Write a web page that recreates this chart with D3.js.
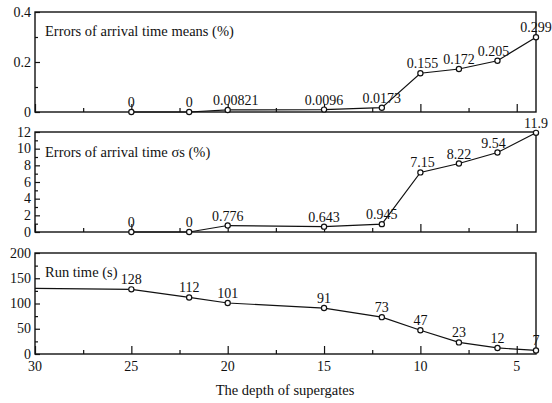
<!DOCTYPE html>
<html>
<head>
<meta charset="utf-8">
<script src="https://cdn.jsdelivr.net/npm/d3@7"></script>
<style>
  body { margin: 0; background: #fff; }
  text { font-family: "Liberation Serif", "DejaVu Serif", serif; fill: #111; }
</style>
</head>
<body>
<svg id="chart" width="552" height="403"></svg>
<script>
// depths of supergates
const depths = [25, 22, 20, 15, 12, 10, 8, 6, 4];
const meanErr = [0, 0, 0.00821, 0.0096, 0.0173, 0.155, 0.172, 0.205, 0.299];
const meanLabels = ["0", "0", "0.00821", "0.0096", "0.0173", "0.155", "0.172", "0.205", "0.299"];
const sigmaErr = [0, 0, 0.776, 0.643, 0.945, 7.15, 8.22, 9.54, 11.9];
const sigmaLabels = ["0", "0", "0.776", "0.643", "0.945", "7.15", "8.22", "9.54", "11.9"];
const runDepths = [30, 25, 22, 20, 15, 12, 10, 8, 6, 4];
const runTime = [130, 128, 112, 101, 91, 73, 47, 23, 12, 7];
const runLabels = ["", "128", "112", "101", "91", "73", "47", "23", "12", "7"];
const xTicks = [30, 25, 20, 15, 10, 5];

const svg = d3.select("#chart");
const left = 35, right = 536;

const x = d3.scaleLinear().domain([30, 4]).range([left, right]);

function drawPanel(cfg) {
  const y = d3.scaleLinear().domain([0, cfg.max]).range([cfg.bottom, cfg.top]);
  const g = svg.append("g");

  // frame
  g.append("rect")
    .attr("x", left).attr("y", cfg.top)
    .attr("width", right - left).attr("height", cfg.bottom - cfg.top)
    .attr("fill", "none").attr("stroke", "#111").attr("stroke-width", 1.4);

  // y ticks (inside)
  const yAxis = d3.axisRight(y).tickValues(cfg.yTicks).tickSize(5).tickFormat("");
  g.append("g").attr("transform", `translate(${left},0)`).call(yAxis)
    .call(a => a.select(".domain").remove());
  const yMinor = d3.axisRight(y).tickValues(cfg.yMinor).tickSize(3).tickFormat("");
  g.append("g").attr("transform", `translate(${left},0)`).call(yMinor)
    .call(a => a.select(".domain").remove());

  g.selectAll(".ylab")
    .data(cfg.yTicks)
    .join("text")
    .attr("class", "ylab")
    .attr("x", left - 4)
    .attr("y", d => y(d) + 4.5)
    .attr("text-anchor", "end")
    .attr("font-size", 14)
    .text(d => cfg.fmt(d));

  // x ticks (inside, pointing up)
  const xAxis = d3.axisTop(x).tickValues(xTicks).tickSize(8).tickFormat("");
  g.append("g").attr("transform", `translate(0,${cfg.bottom})`).call(xAxis)
    .call(a => a.select(".domain").remove());
  const xMinor = d3.axisTop(x).tickValues([27.5, 22.5, 17.5, 12.5, 7.5]).tickSize(4).tickFormat("");
  g.append("g").attr("transform", `translate(0,${cfg.bottom})`).call(xMinor)
    .call(a => a.select(".domain").remove());
  g.selectAll(".tick line").attr("stroke", "#111").attr("stroke-width", 1.2);

  // title inside
  g.append("text")
    .attr("x", left + 10).attr("y", cfg.top + cfg.titleDy)
    .attr("font-size", 14.5)
    .text(cfg.title);

  const pts = cfg.xs.map((d, i) => ({ x: d, v: cfg.vals[i], lab: cfg.labels[i] }));
  const line = d3.line().x(d => x(d.x)).y(d => y(d.v));
  g.append("path").datum(pts)
    .attr("d", line)
    .attr("fill", "none").attr("stroke", "#111").attr("stroke-width", 1.2);

  g.selectAll("circle")
    .data(pts.filter(d => d.lab !== ""))
    .join("circle")
    .attr("cx", d => x(d.x)).attr("cy", d => y(d.v)).attr("r", 2.6)
    .attr("fill", "#fff").attr("stroke", "#111").attr("stroke-width", 1.2);

  g.selectAll(".dlab")
    .data(pts.filter(d => d.lab !== ""))
    .join("text")
    .attr("class", "dlab")
    .attr("x", d => x(d.x) + (cfg.dx ? cfg.dx(d) : 0))
    .attr("y", d => y(d.v) - 5)
    .attr("text-anchor", "middle")
    .attr("font-size", 14)
    .text(d => d.lab);
}

drawPanel({
  top: 12, bottom: 112, max: 0.4, titleDy: 24,
  yTicks: [0, 0.2, 0.4], yMinor: [0.1, 0.3],
  fmt: d => d === 0 ? "0" : d3.format(".1f")(d),
  title: "Errors of arrival time means (%)",
  xs: depths, vals: meanErr, labels: meanLabels,
  dx: d => d.x === 20 ? 8 : (d.x === 6 ? -4 : (d.x === 10 ? 2 : 0))
});

drawPanel({
  top: 132, bottom: 232, max: 12, titleDy: 25,
  yTicks: [0, 2, 4, 6, 8, 10, 12], yMinor: [1, 3, 5, 7, 9, 11],
  fmt: d => String(d),
  title: "Errors of arrival time \u03c3s (%)",
  xs: depths, vals: sigmaErr, labels: sigmaLabels,
  dx: d => d.x === 6 ? -4 : (d.x === 10 ? 2 : 0)
});

drawPanel({
  top: 253, bottom: 354, max: 200, titleDy: 24,
  yTicks: [0, 50, 100, 150, 200], yMinor: [25, 75, 125, 175],
  fmt: d => String(d),
  title: "Run time (s)",
  xs: runDepths, vals: runTime, labels: runLabels
});

// x tick labels on the bottom panel
svg.selectAll(".xlab")
  .data(xTicks)
  .join("text")
  .attr("class", "xlab")
  .attr("x", d => x(d))
  .attr("y", 371)
  .attr("text-anchor", "middle")
  .attr("font-size", 14)
  .text(d => d);

svg.append("text")
  .attr("x", 285).attr("y", 395)
  .attr("text-anchor", "middle")
  .attr("font-size", 14.5)
  .text("The depth of supergates");
</script>
</body>
</html>
